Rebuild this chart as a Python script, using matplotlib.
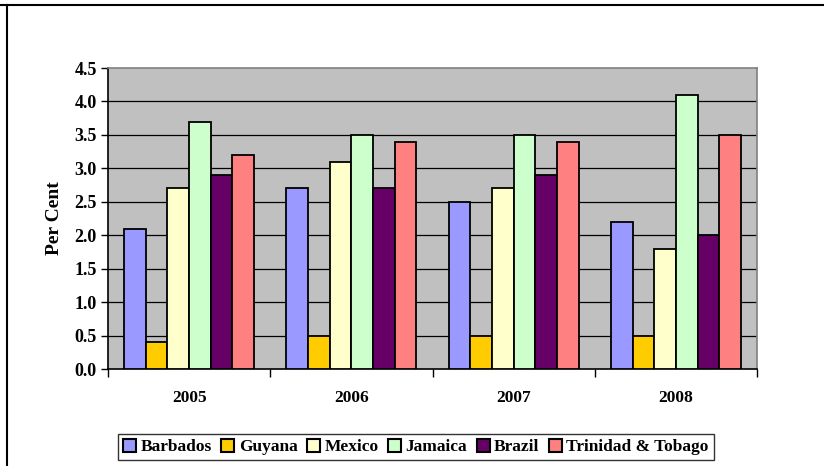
import matplotlib
matplotlib.use("Agg")
import matplotlib.pyplot as plt
import numpy as np
from matplotlib.lines import Line2D
from matplotlib.patches import Patch

years = ["2005", "2006", "2007", "2008"]
countries = ["Barbados", "Guyana", "Mexico", "Jamaica", "Brazil", "Trinidad & Tobago"]
barbados = [2.1, 2.7, 2.5, 2.2]
guyana = [0.4, 0.5, 0.5, 0.5]
mexico = [2.7, 3.1, 2.7, 1.8]
jamaica = [3.7, 3.5, 3.5, 4.1]
brazil = [2.9, 2.7, 2.9, 2.0]
trinidad = [3.2, 3.4, 3.4, 3.5]
series = [barbados, guyana, mexico, jamaica, brazil, trinidad]
colors = ["#9999FF", "#FFCC00", "#FFFFCC", "#CCFFCC", "#660066", "#FF8080"]

plt.rcParams['font.family'] = ['Liberation Serif', 'DejaVu Serif']
plt.rcParams['font.weight'] = 'bold'

W, H = 824, 466
fig = plt.figure(figsize=(W/100, H/100), dpi=100)
ax = fig.add_axes([108/W, 1-369/H, (757-108)/W, (369-68)/H])
ax.set_facecolor("#C0C0C0")

n = len(series)
bw = 1/7.5
x = np.arange(len(years))
for i, (s, c, name) in enumerate(zip(series, colors, countries)):
    off = (i - (n-1)/2) * bw
    ax.bar(x + off, s, width=bw, color=c, edgecolor="black", linewidth=1.3, label=name, zorder=3)

ax.set_xlim(-0.5, len(years)-0.5)
ax.set_ylim(0, 4.5)
yt = np.arange(0, 4.51, 0.5)
ax.set_yticks(yt)
ax.set_yticklabels([f"{v:.1f}" for v in yt], fontsize=13, fontweight='bold')
for v in yt[1:-1]:
    ax.axhline(v, color="black", linewidth=0.9, zorder=1)

ax.set_xticks(x)
ax.set_xticklabels(years, fontsize=12.5, fontweight='bold')
ax.set_xticks(np.arange(-0.5, len(years)), minor=True)
ax.tick_params(axis='x', which='major', length=0, pad=15)
ax.tick_params(axis='x', which='minor', length=6, width=1, direction='out')
ax.tick_params(axis='y', length=5, width=1, direction='out', pad=3)

for sp in ['top', 'right']:
    ax.spines[sp].set_color("#808080")
    ax.spines[sp].set_linewidth(1.2)
for sp in ['left', 'bottom']:
    ax.spines[sp].set_color("black")
    ax.spines[sp].set_linewidth(1.2)

ax.set_ylabel("Per Cent", fontsize=14, fontweight='bold', labelpad=8)

handles = [Patch(facecolor=c, edgecolor="black", linewidth=1.5) for c in colors]
leg = fig.legend(handles, countries, loc='center', bbox_to_anchor=(416/W, 1-447/H),
                 ncol=6, frameon=True, handlelength=0.75, handleheight=0.75,
                 handletextpad=0.25, columnspacing=0.55, borderpad=0.3, fancybox=False,
                 prop={'weight': 'bold', 'size': 12.5})
leg.get_frame().set_edgecolor("black")
leg.get_frame().set_linewidth(1.0)

# figure border (top and left)
fig.add_artist(Line2D([0, 1], [1-4.5/H, 1-4.5/H], color='black', linewidth=1.5, transform=fig.transFigure))
fig.add_artist(Line2D([7/W, 7/W], [0, 1-4.5/H], color='black', linewidth=1.5, transform=fig.transFigure))

fig.savefig("out.png", dpi=100)
